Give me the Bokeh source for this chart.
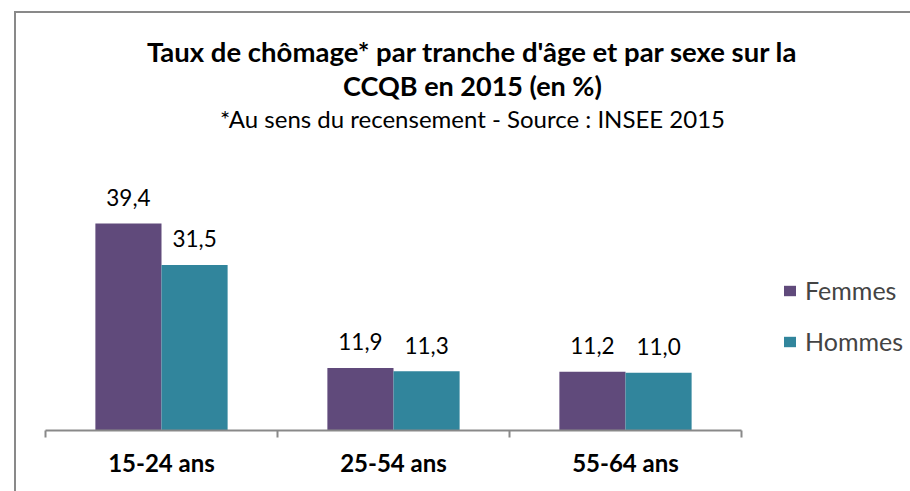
from bokeh.plotting import figure
from bokeh.models import (ColumnDataSource, Range1d, FixedTicker, LinearAxis,
                          LabelSet, Label, Legend, LegendItem)
from bokeh.core.properties import value
from bokeh.transform import dodge
from bokeh.embed import file_html
from bokeh.resources import INLINE

# ---- data ----
categories = ["15-24 ans", "25-54 ans", "55-64 ans"]
femmes = [39.4, 11.9, 11.2]
hommes = [31.5, 11.3, 11.0]
series_names = ["Femmes", "Hommes"]
title_line1 = "Taux de chômage* par tranche d'âge et par sexe sur la"
title_line2 = "CCQB en 2015 (en %)"
subtitle = "*Au sens du recensement - Source : INSEE 2015"

FONT = "Lato"
C_F = "#604A7B"
C_H = "#31859C"
GRAY = "#898989"

def fr(v):
    return f"{v:.1f}".replace(".", ",")

xc = [i + 0.5 for i in range(len(categories))]
src = ColumnDataSource(dict(
    x=xc, femmes=femmes, hommes=hommes,
    lf=[fr(v) for v in femmes], lh=[fr(v) for v in hommes],
))

# geometry (page pixels)
AX_LEFT, AX_RIGHT = 45, 741          # category axis extent
AXIS_Y = 430                         # baseline of bars
FW, TOTAL_H = 910, 491
PXX = (AX_RIGHT - AX_LEFT) / len(categories)   # px per category
PXU = 5.254                                    # px per unit (vertical)

def px_to_x(px):
    return (px - AX_LEFT) / PXX

def py_to_y(py):
    return (AXIS_Y - py) / PXU

p = figure(frame_width=FW, frame_height=AXIS_Y,
           output_backend="svg", toolbar_location=None,
           x_range=Range1d(px_to_x(0), px_to_x(FW)),
           y_range=Range1d(0, py_to_y(0)),
           min_border_left=0, min_border_right=0,
           min_border_top=0, min_border_bottom=TOTAL_H - AXIS_Y,
           x_axis_location=None, y_axis_location=None)
p.outline_line_color = None
p.xgrid.visible = False
p.ygrid.visible = False
p.background_fill_alpha = 0
p.border_fill_alpha = 0
# chart-area border (left and top edges visible, as in the reference)
p.styles = {
    "background": ("linear-gradient(#898989, #898989) 14px 11px / 2px 100% no-repeat, "
                   "linear-gradient(#898989, #898989) 14px 11px / 100% 2px no-repeat, "
                   "#ffffff"),
}

bw = 0.285
rf = p.vbar(x=dodge("x", -bw / 2, range=p.x_range), top="femmes", width=bw, bottom=0,
            source=src, fill_color=C_F, line_color=None)
rh = p.vbar(x=dodge("x", bw / 2, range=p.x_range), top="hommes", width=bw, bottom=0,
            source=src, fill_color=C_H, line_color=None)

# x axis: category labels at centres, ticks at category boundaries
ax = LinearAxis(ticker=FixedTicker(ticks=xc, minor_ticks=list(range(len(categories) + 1))),
                major_label_overrides={x: c for x, c in zip(xc, categories)},
                bounds=(0, len(categories)))
ax.major_tick_line_color = None
ax.major_tick_out = 0
ax.major_tick_in = 0
ax.minor_tick_line_color = GRAY
ax.minor_tick_line_width = 2
ax.minor_tick_out = 7
ax.minor_tick_in = 0
ax.axis_line_color = GRAY
ax.axis_line_width = 2
ax.major_label_text_font = FONT
ax.major_label_text_font_style = "bold"
ax.major_label_text_font_size = "24px"
ax.major_label_text_color = "black"
ax.major_label_standoff = 10
p.add_layout(ax, "below")

# data labels
for col, top, off in (("lf", "femmes", -bw / 2), ("lh", "hommes", bw / 2)):
    ls = LabelSet(x=dodge("x", off, range=p.x_range), y=top, text=col, source=src,
                  text_align="center", text_baseline="middle", y_offset=26,
                  text_font=value(FONT), text_font_size=value("22.5px"),
                  text_color="black")
    p.add_layout(ls)

# legend (inside the frame, right of the bars)
leg = Legend(items=[LegendItem(label=series_names[0], renderers=[rf]),
                    LegendItem(label=series_names[1], renderers=[rh])],
             location=(782, 74), orientation="vertical",
             label_text_font=FONT, label_text_font_size="25px",
             glyph_width=15, glyph_height=13, label_standoff=8,
             label_height=24, spacing=21, padding=0, margin=0,
             border_line_color=None, background_fill_alpha=0)
p.add_layout(leg)

# titles
cx = px_to_x(472)
p.add_layout(Label(x=cx, y=py_to_y(51), text=title_line1, text_align="center",
                   text_baseline="middle", text_font=FONT, text_font_style="bold",
                   text_font_size="27.5px", text_color="black"))
p.add_layout(Label(x=cx, y=py_to_y(85), text=title_line2, text_align="center",
                   text_baseline="middle", text_font=FONT, text_font_style="bold",
                   text_font_size="27px", text_color="black"))
p.add_layout(Label(x=cx, y=py_to_y(118), text=subtitle, text_align="center",
                   text_baseline="middle", text_font=FONT,
                   text_font_size="24px", text_color="black"))

open("out.html", "w").write(file_html(p, INLINE))
